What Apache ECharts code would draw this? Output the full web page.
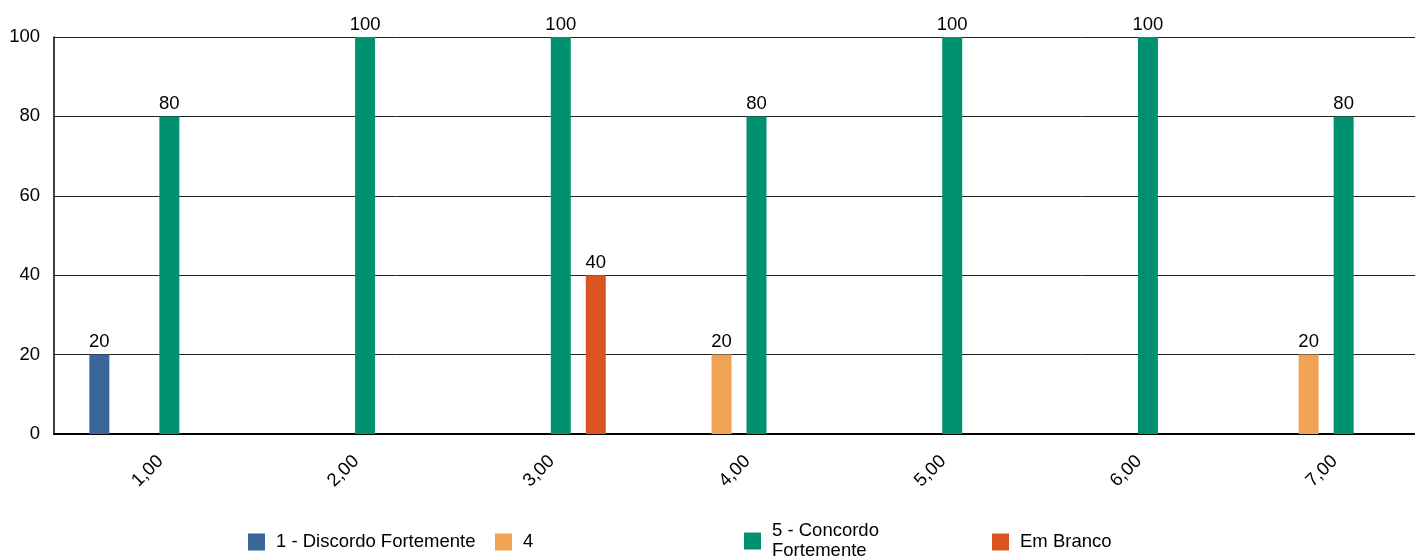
<!DOCTYPE html>
<html>
<head>
<meta charset="utf-8">
<script src="https://cdn.jsdelivr.net/npm/echarts@6/dist/echarts.min.js"></script>
<style>html,body{margin:0;padding:0;background:#fff;overflow:hidden;width:1415px;height:559px;}#chart{width:1424px;height:559px;}</style>
</head>
<body>
<div id="chart"></div>
<script>
var categories = ['1,00', '2,00', '3,00', '4,00', '5,00', '6,00', '7,00'];
var seriesNames = ['1 - Discordo Fortemente', '4', '5 - Concordo Fortemente', 'Em Branco'];
var discordo = [20, null, null, null, null, null, null];
var quatro = [null, null, null, 20, null, null, 20];
var concordo = [80, 100, 100, 80, 100, 100, 80];
var emBranco = [null, null, 40, null, null, null, null];
var yTicks = [0, 20, 40, 60, 80, 100];
var colors = ['#3a6699', '#f0a453', '#009270', '#dc5520'];

var font = 'Liberation Sans, Arial, sans-serif';
var fs = 18.5;
var chart = echarts.init(document.getElementById('chart'));

function mkSeries(name, data, color) {
  return {
    name: name, type: 'bar', data: data, barWidth: 20, barGap: '75%',
    itemStyle: { color: color },
    label: { show: true, position: 'top', distance: 3, color: '#000', fontSize: fs, fontFamily: font },
    animation: false
  };
}
function mkLegend(name, left, top) {
  return {
    data: [name], left: left, top: top, padding: 0, icon: 'rect', itemWidth: 17, itemHeight: 17,
    textStyle: { fontSize: fs, fontFamily: font, color: '#000', padding: [0, 0, 0, 6], lineHeight: 20 },
    formatter: function (n) { return n === '5 - Concordo Fortemente' ? '5 - Concordo\nFortemente' : n; }
  };
}

chart.setOption({
  animation: false,
  grid: { left: 54, right: 0, top: 37, bottom: 125, containLabel: false },
  legend: [
    mkLegend(seriesNames[0], 248, 532),
    mkLegend(seriesNames[1], 495, 532),
    mkLegend(seriesNames[2], 744, 521),
    mkLegend(seriesNames[3], 992, 532)
  ],
  xAxis: {
    type: 'category', data: categories,
    axisLine: { show: true, lineStyle: { color: '#000', width: 2 } },
    axisTick: { show: false },
    axisLabel: { rotate: 45, fontSize: fs, fontFamily: font, color: '#000', margin: 16, verticalAlign: 'top', lineHeight: 24 }
  },
  yAxis: {
    type: 'value', min: yTicks[0], max: yTicks[yTicks.length - 1], interval: 20,
    axisLine: { show: true, lineStyle: { color: '#000', width: 1.5 } },
    axisTick: { show: false },
    splitLine: { show: true, lineStyle: { color: '#222', width: 1 } },
    axisLabel: { fontSize: fs, fontFamily: font, color: '#000', margin: 14 }
  },
  series: [
    mkSeries(seriesNames[0], discordo, colors[0]),
    mkSeries(seriesNames[1], quatro, colors[1]),
    mkSeries(seriesNames[2], concordo, colors[2]),
    mkSeries(seriesNames[3], emBranco, colors[3])
  ]
});
</script>
</body>
</html>
